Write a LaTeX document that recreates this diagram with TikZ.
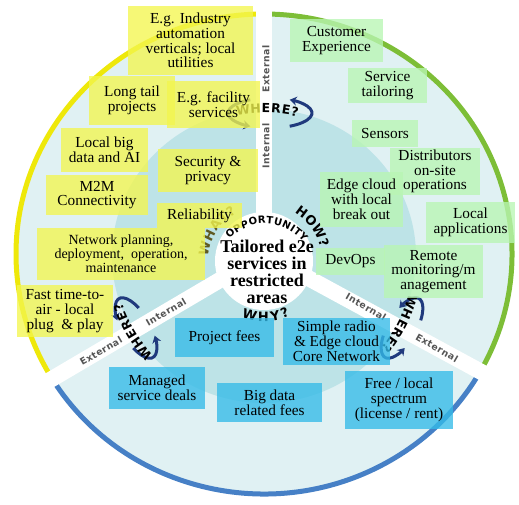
\documentclass[tikz,border=0pt]{standalone}
\usepackage{fontspec}
\setmainfont{Liberation Serif}
\newfontfamily\capfont{DejaVu Sans}
\newfontfamily\gapfont[LetterSpace=5]{DejaVu Sans}
\usetikzlibrary{arrows.meta,calc}

\definecolor{outerfill}{RGB}{224,241,243}
\definecolor{innerfill}{RGB}{189,227,231}
\definecolor{yarc}{RGB}{238,232,10}
\definecolor{garc}{RGB}{125,190,55}
\definecolor{barc}{RGB}{70,128,198}
\definecolor{ybox}{RGB}{243,246,79}
\definecolor{gbox}{RGB}{185,246,179}
\definecolor{bbox}{RGB}{52,187,232}
\definecolor{arrowblue}{RGB}{32,58,125}
\definecolor{whatcol}{RGB}{95,90,35}
\definecolor{gaptext}{RGB}{85,85,85}

\tikzset{
 box/.style={inner sep=0pt, align=center, font=\fontsize{15.3}{14.8}\selectfont, fill opacity=0.78, text opacity=1},
 ybx/.style={box, fill=ybox},
 gbx/.style={box, fill=gbox},
 bbx/.style={box, fill=bbox},
 sz/.style 2 args={minimum width=#1pt, minimum height=#2pt},
 gaplbl/.style={inner sep=0pt, text=gaptext, font=\gapfont\bfseries\fontsize{9.3}{9.3}\selectfont},
 wlet/.style={inner sep=0pt, font=\capfont\bfseries\fontsize{12.5}{12.5}\selectfont},
 olet/.style={inner sep=0pt, font=\capfont\bfseries\fontsize{10}{10}\selectfont},
 qlet/.style={inner sep=0pt, font=\capfont\bfseries\fontsize{13}{13}\selectfont},
 warrow/.style={draw=arrowblue, line width=3pt, -{Stealth[length=7pt,width=9pt]}},
 gapband/.style={draw=white, line width=16pt},
 rim/.style={line width=5pt},
}

% #1 prefix, #2 centre, #3 radius, #4 angle of first letter, #5 direction (-1 clockwise, 1 counter),
% #6 style, #7 list letter/offset-along-arc
\newcommand\ArcText[7]{%
  \foreach \ch/\off [count=\k] in {#7}{%
    \pgfmathsetmacro\aa{#4+(#5)*\off/(#3)*57.2958}%
    \pgfmathsetmacro\rr{\aa+90*(#5)}%
    \node[#6, rotate=\rr] (#1\k) at ($(#2)+(\aa:#3)$) {\ch};%
  }%
}

\begin{document}
\begin{tikzpicture}[x=1pt,y=1pt]
\useasboundingbox (0,0) rectangle (519,-504);
\coordinate (C) at (264,-254);
\coordinate (oc) at (265,-272);
\coordinate (wc) at (264,-262);

% disk
\fill[outerfill] (C) ellipse[x radius=248, y radius=240];
\fill[innerfill] (264,-256) ellipse[x radius=152, y radius=147];
\draw[yarc, rim] ($(C)+(90:248 and 240)$) arc[start angle=90, end angle=210.5, x radius=248, y radius=240];
\draw[barc, rim] ($(C)+(210.5:248 and 240)$) arc[start angle=210.5, end angle=331.5, x radius=248, y radius=240];
\draw[garc, rim] ($(C)+(331.5:248 and 240)$) arc[start angle=331.5, end angle=450, x radius=248, y radius=240];

% white gaps
\coordinate (gapA) at ($(C)+(90:270)$);
\coordinate (gapB) at ($(C)+(210.5:275)$);
\coordinate (gapC) at ($(C)+(331.5:275)$);
\draw[gapband] (C) -- (gapA);
\draw[gapband] (C) -- (gapB);
\draw[gapband] (C) -- (gapC);
\fill[white] (264,-261) circle[radius=49];

% internal / external
\node[gaplbl, rotate=90] (int1) at (266,-146) {Internal};
\node[gaplbl, rotate=90] (ext1) at (266,-69) {External};
\node[gaplbl, rotate=30] (int2) at (166,-312) {Internal};
\node[gaplbl, rotate=30] (ext2) at (101,-351) {External};
\node[gaplbl, rotate=-30] (int3) at (366,-307) {Internal};
\node[gaplbl, rotate=-30] (ext3) at (437,-348) {External};

% where? arrows
\begin{scope}[shift={(270,-113)}]
 \draw[warrow] (-62:42 and 15) arc[start angle=-62, end angle=62, x radius=42, y radius=15];
 \draw[warrow] (118:42 and 15) arc[start angle=118, end angle=242, x radius=42, y radius=15];
\end{scope}
\begin{scope}[shift={(136,-328)}, rotate=120]
 \draw[warrow] (-62:34 and 14) arc[start angle=-62, end angle=62, x radius=34, y radius=14];
 \draw[warrow] (118:34 and 14) arc[start angle=118, end angle=242, x radius=34, y radius=14];
\end{scope}
\begin{scope}[shift={(402,-328)}, rotate=240]
 \draw[warrow] (-62:34 and 14) arc[start angle=-62, end angle=62, x radius=34, y radius=14];
 \draw[warrow] (118:34 and 14) arc[start angle=118, end angle=242, x radius=34, y radius=14];
\end{scope}

% curved words
\ArcText{wa}{C}{146}{98.3}{-1}{wlet}{W/0,H/12.7,E/23.2,R/33.3,E/43.4,?/52.3}
\ArcText{wb}{C}{155}{219.7}{-1}{wlet}{W/0,H/12.7,E/23.2,R/33.3,E/43.4,?/52.3}
\ArcText{wc}{C}{155}{341.7}{-1}{wlet}{W/0,H/12.7,E/23.2,R/33.3,E/43.4,?/52.3}
\ArcText{opp}{oc}{52}{132}{-1}{olet}{O/0,P/8.8,P/17.05,O/25.86,R/34.86,T/43.02,U/51.39,N/60.53,I/67.48,T/73.65,Y/81.58}
\ArcText{what}{wc}{61}{167}{-1}{qlet,text=whatcol}{W/0,H/13.74,A/25.81,T/36.88,?/46.68}
\ArcText{how}{wc}{63}{53}{-1}{qlet}{H/0,O/12.57,W/26.39,?/38.46}
\ArcText{why}{wc}{55}{255}{1}{qlet}{W/0,H/13.74,Y/25.49,?/35.57}

% yellow boxes
\node[ybx, sz={125}{69}] (y1) at (190.5,-40.5) {E.g. Industry\\automation\\verticals; local\\utilities};
\node[ybx, sz={86}{49}] (y2) at (132,-100.5) {Long tail\\projects};
\node[ybx, sz={93}{47}] (y3) at (213.5,-104.5) {E.g. facility\\services};
\node[ybx, sz={87}{44}] (y4) at (104.5,-150) {Local big\\data and AI};
\node[ybx, sz={100}{43}] (y5) at (208,-170.5) {Security \&\\privacy};
\node[ybx, sz={102}{40}] (y6) at (97,-195) {M2M\\Connectivity};
\node[ybx, sz={85}{25}] (y7) at (199.5,-215.5) {Reliability};
\node[ybx, sz={168}{52}, font=\fontsize{14}{14}\selectfont] (y8) at (121,-254) {Network planning,\\deployment,~ operation,\\maintenance};
\node[ybx, sz={96}{52}] (y9) at (65,-311) {Fast time-to-\\air - local\\plug ~\& play};

% green boxes
\node[gbx, sz={93}{43}] (gr1) at (336.5,-40.5) {Customer\\Experience};
\node[gbx, sz={79}{35}] (gr2) at (387.5,-85.5) {Service\\tailoring};
\node[gbx, sz={66}{27}] (gr3) at (385,-133.5) {Sensors};
\node[gbx, sz={90}{47}] (gr4) at (435,-171.5) {Distributors\\on-site\\operations};
\node[gbx, sz={83}{55}] (gr5) at (361.5,-199.5) {Edge cloud\\with local\\break out};
\node[gbx, sz={89}{41}] (gr6) at (470.5,-222.5) {Local\\applications};
\node[gbx, sz={69}{27}] (gr7) at (350.5,-261.5) {DevOps};
\node[gbx, sz={99}{53}] (gr8) at (433.5,-271.5) {Remote\\monitoring/m\\anagement};

% blue boxes
\node[bbx, sz={99}{39}] (b1) at (224.5,-337.5) {Project fees};
\node[bbx, sz={107}{47}] (b2) at (336.5,-341.5) {Simple radio\\\& Edge cloud\\Core Network};
\node[bbx, sz={96}{42}] (b3) at (157,-388) {Managed\\service deals};
\node[bbx, sz={105}{39}] (b4) at (269.5,-402.5) {Big data\\related fees};
\node[bbx, sz={108}{58}] (b5) at (399,-400) {Free / local\\spectrum\\(license / rent)};

% centre
\node[inner sep=0pt, align=center, font=\bfseries\fontsize{18}{17}\selectfont] (ctr) at (267,-272) {Tailored e2e\\services in\\restricted\\areas};
\end{tikzpicture}
\end{document}
